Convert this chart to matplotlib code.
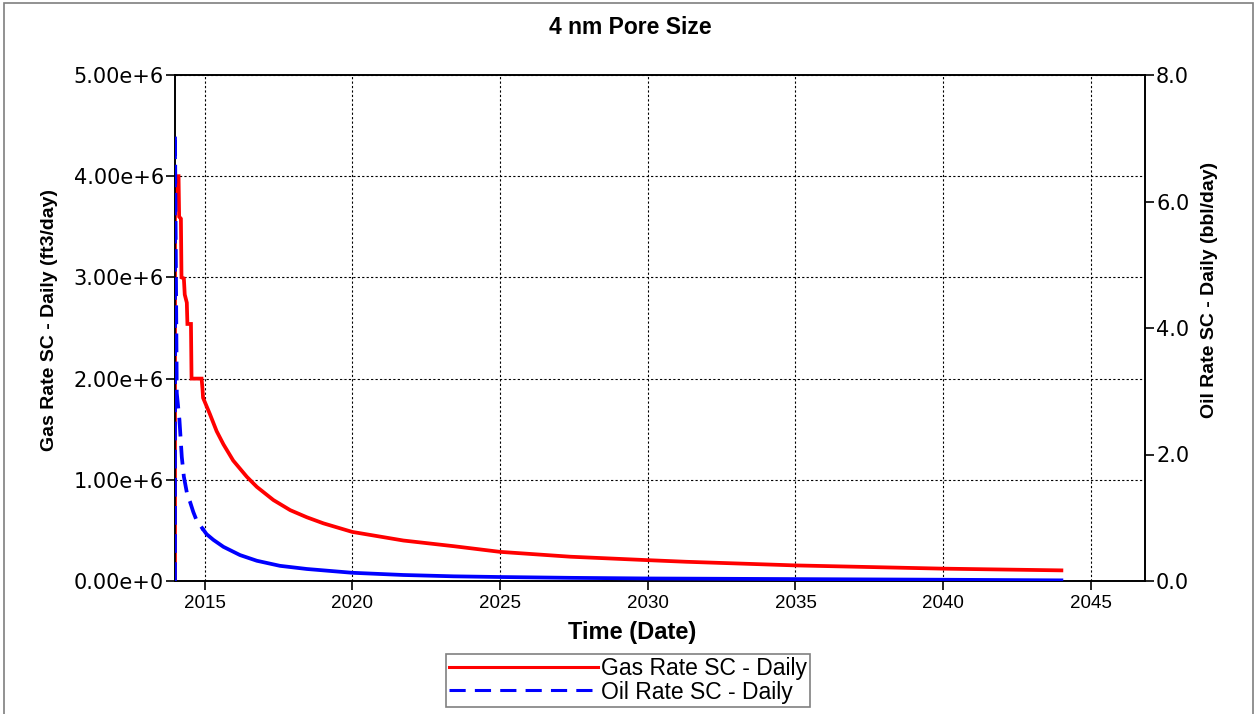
import numpy as np
import matplotlib
matplotlib.use("Agg")
import matplotlib.pyplot as plt
from matplotlib import font_manager
from matplotlib.patches import Rectangle
from matplotlib.lines import Line2D

# ---------------- data ----------------
title = "4 nm Pore Size"
x_label = "Time (Date)"
gas_axis_label = "Gas Rate SC - Daily (ft3/day)"
oil_axis_label = "Oil Rate SC - Daily (bbl/day)"
gas_name = "Gas Rate SC - Daily"
oil_name = "Oil Rate SC - Daily"

gas_t = [2014.0, 2014.0, 2014.12, 2014.14, 2014.20, 2014.22, 2014.30, 2014.33,
         2014.40, 2014.42, 2014.54, 2014.56, 2014.90, 2014.93, 2014.95, 2015.18,
         2015.41, 2015.64, 2015.97, 2016.43, 2016.77, 2017.33, 2017.90, 2018.46,
         2019.02, 2020.0, 2021.73, 2023.43, 2025.0, 2027.38, 2030.0, 2031.3,
         2035.0, 2040.0, 2044.0]
gas_v = [0.0, 4.0e6, 4.0e6, 3.6e6, 3.58e6, 3.0e6, 2.99e6, 2.83e6,
         2.75e6, 2.54e6, 2.54e6, 2.0e6, 2.0e6, 1.9e6, 1.81e6, 1.65e6,
         1.48e6, 1.35e6, 1.19e6, 1.03e6, 0.93e6, 0.80e6, 0.70e6, 0.63e6,
         0.57e6, 0.485e6, 0.40e6, 0.344e6, 0.288e6, 0.24e6, 0.206e6, 0.19e6,
         0.154e6, 0.122e6, 0.105e6]

oil_t = [2014.0, 2014.0, 2014.03, 2014.06, 2014.15, 2014.23, 2014.30, 2014.42,
         2014.51, 2014.62, 2014.73, 2014.96, 2015.07, 2015.30, 2015.64, 2016.20,
         2016.77, 2017.55, 2018.46, 2020.0, 2021.73, 2023.43, 2025.0, 2027.4,
         2030.0, 2035.0, 2040.0, 2044.0]
oil_v = [0.0, 7.07, 5.0, 2.97, 2.55, 1.96, 1.65, 1.35,
         1.25, 1.09, 0.96, 0.81, 0.74, 0.65, 0.54, 0.41,
         0.32, 0.24, 0.19, 0.13, 0.095, 0.074, 0.063, 0.05,
         0.04, 0.03, 0.02, 0.01]

x_ticks = [2015, 2020, 2025, 2030, 2035, 2040, 2045]
gas_ticks = [0.0, 1.0e6, 2.0e6, 3.0e6, 4.0e6, 5.0e6]
gas_tick_labels = ["0.00e+0", "1.00e+6", "2.00e+6", "3.00e+6", "4.00e+6", "5.00e+6"]
oil_ticks = [0.0, 2.0, 4.0, 6.0, 8.0]

# ---------------- styling ----------------
names = {f.name for f in font_manager.fontManager.ttflist}
NARROW = "Liberation Sans Narrow" if "Liberation Sans Narrow" in names else "Liberation Sans"
TICKFONT = "DejaVu Sans"

W, H = 1257, 714
fig = plt.figure(figsize=(W / 100, H / 100), dpi=100)
fig.patch.set_facecolor("white")

L, R, T, B = 175, 1145, 75, 581
ax = fig.add_axes([L / W, 1 - B / H, (R - L) / W, (B - T) / H])
ax2 = ax.twinx()

RED = "#ff0000"
BLUE = "#0000ff"

ax.plot(gas_t, gas_v, color=RED, lw=2.7, solid_joinstyle="miter", zorder=3)

oil_t_arr = np.array(oil_t)
oil_v_arr = np.array(oil_v)
split = 2014.96
m1 = oil_t_arr <= split
m2 = oil_t_arr >= split
ax2.plot(oil_t_arr[m1], oil_v_arr[m1], color=BLUE, lw=2.7, dashes=(5, 2.5), zorder=4)
ax2.plot(oil_t_arr[m2], oil_v_arr[m2], color=BLUE, lw=2.7, zorder=4)

ax.set_xlim(2014.0, 2046.83)
ax.set_ylim(0, 5.0e6)
ax2.set_ylim(0, 8.0)

ax.set_xticks(x_ticks)
ax.set_xticklabels([str(v) for v in x_ticks], fontsize=13.5, family=NARROW)
ax.set_yticks(gas_ticks)
ax.set_yticklabels(gas_tick_labels, fontsize=15, family=TICKFONT)
ax2.set_yticks(oil_ticks)
ax2.set_yticklabels([f"{v:.1f}" for v in oil_ticks], fontsize=15, family=TICKFONT)

ax.grid(True, linestyle=(0, (2, 2)), color="black", lw=0.8)
ax.set_axisbelow(True)

for a in (ax, ax2):
    for s in a.spines.values():
        s.set_linewidth(1.2)
        s.set_color("black")

ax.tick_params(axis="y", direction="out", length=6.5, width=1.2, pad=1.5, labelcolor="black")
ax.tick_params(axis="x", direction="out", length=6.5, width=1.2, pad=3.5, labelcolor="black")
ax2.tick_params(axis="y", direction="out", length=6.5, width=1.2, pad=1.5, labelcolor="black")

# titles and axis labels
fig.text(630 / W, 1 - 27 / H, title, ha="center", va="center",
         fontsize=16.5, fontweight="bold", family=NARROW)
fig.text(632 / W, 1 - 632 / H, x_label, ha="center", va="center",
         fontsize=17, fontweight="bold", family=NARROW)
fig.text(50 / W, 1 - 320 / H, gas_axis_label, ha="center", va="center",
         rotation=90, fontsize=14, fontweight="bold", family=NARROW)
fig.text(1210 / W, 1 - 290 / H, oil_axis_label, ha="center", va="center",
         rotation=90, fontsize=14, fontweight="bold", family=NARROW)

# legend
handles = [Line2D([], [], color=RED, lw=2.2),
           Line2D([], [], color=BLUE, lw=2.2, dashes=(5.3, 3))]
leg = fig.legend(handles, [gas_name, oil_name], loc="center",
                 bbox_to_anchor=(628 / W, 1 - 680.5 / H),
                 frameon=True, fancybox=False, shadow=False,
                 edgecolor="#808080", framealpha=1,
                 prop={"family": "Liberation Sans", "size": 16.5},
                 handlelength=6.5, handletextpad=0.12, labelspacing=0.0,
                 borderpad=0.15, borderaxespad=0)
leg.get_frame().set_linewidth(1.2)

# outer frame
fig.patches.append(Rectangle((4 / W, -0.01), (1253 - 4) / W, 1 - 3 / H + 0.01,
                             transform=fig.transFigure, fill=False,
                             edgecolor="#7f7f7f", lw=1.2))

fig.savefig("out.png", dpi=100)
